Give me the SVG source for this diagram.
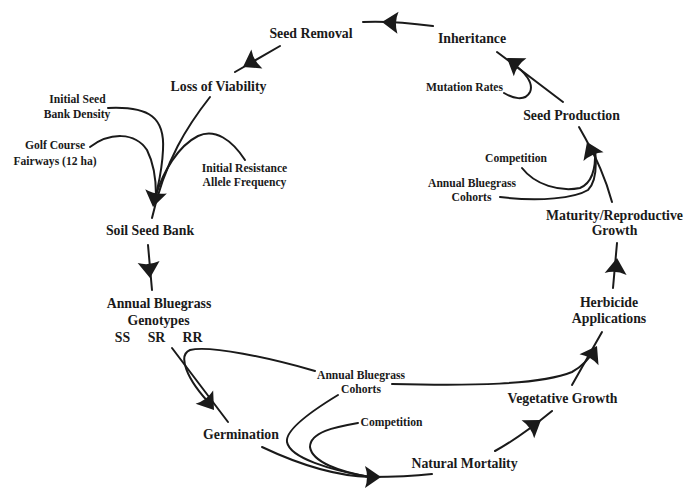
<svg xmlns="http://www.w3.org/2000/svg" xmlns:xlink="http://www.w3.org/1999/xlink" width="696" height="489" viewBox="0 0 696 489">
<style>
text{font-family:"Liberation Serif","Times New Roman",serif;font-weight:bold;fill:#1a1a1a;text-anchor:middle}
.m{font-size:13.8px}
.s{font-size:11.6px}
.c{fill:none;stroke:#1a1a1a;stroke-width:2;stroke-linecap:round}
.a{fill:#1a1a1a}
</style>
<defs>
<path id="ah" d="M0,0 L-16,-11 Q-12,0 -16,11 Z"/>
</defs>
<rect width="696" height="489" fill="#fff"/>
<g id="connectors">
<path class="c" d="M433,26 C410,23 385,21 363,22"/>
<path class="c" d="M280,46 L235,72"/>
<path class="c" d="M210,97 C188,125 165,160 152,218"/>
<path class="c" d="M108,108 C150,106 165,118 163,150 C162,172 158,185 156,195"/>
<path class="c" d="M90,147 C110,132 135,132 147,150 C153,162 156,178 156,195"/>
<path class="c" d="M245,160 C232,140 215,128 198,136 C178,146 163,172 156,195"/>
<path class="c" d="M148,245 L152,290"/>
<path class="c" d="M172,348 L228,422"/>
<path class="c" d="M315,371 C270,358 210,345 190,350 C178,355 185,378 212,406"/>
<path class="c" d="M262,447 C300,465 335,476 370,477 C395,477 415,476 432,474"/>
<path class="c" d="M338,395 C310,412 285,430 287,442 C290,458 330,470 370,477"/>
<path class="c" d="M358,423 C335,427 310,432 310,447 C312,462 340,472 370,477"/>
<path class="c" d="M495,451 C515,440 535,425 552,411"/>
<path class="c" d="M572,385 L602,332"/>
<path class="c" d="M392,384 C470,386 540,385 572,372 C583,366 590,358 596,348"/>
<path class="c" d="M613,288 L617,243"/>
<path class="c" d="M612,202 C606,180 598,160 579,127"/>
<path class="c" d="M522,168 C535,185 560,192 580,188 C592,183 596,170 595,150"/>
<path class="c" d="M500,197 C540,202 575,198 588,190 C596,182 597,168 595,150"/>
<path class="c" d="M563,102 L497,52"/>
<path class="c" d="M504,93 C512,98 525,102 530,92 C534,83 525,72 512,63"/>
<use class="a" xlink:href="#ah" transform="translate(382,22) rotate(183)"/>
<use class="a" xlink:href="#ah" transform="translate(243,67) rotate(150)"/>
<use class="a" xlink:href="#ah" transform="translate(153,207) rotate(101)"/>
<use class="a" xlink:href="#ah" transform="translate(150,278) rotate(85)"/>
<use class="a" xlink:href="#ah" transform="translate(214,410) rotate(53)"/>
<use class="a" xlink:href="#ah" transform="translate(381,477) rotate(0)"/>
<use class="a" xlink:href="#ah" transform="translate(541,420) rotate(-35)"/>
<use class="a" xlink:href="#ah" transform="translate(597,346) rotate(-60)"/>
<use class="a" xlink:href="#ah" transform="translate(617,258) rotate(-85)"/>
<use class="a" xlink:href="#ah" transform="translate(587,142) rotate(-114)"/>
<use class="a" xlink:href="#ah" transform="translate(507,58) rotate(-145)"/>
</g>
<g id="seed-removal"><text class="m" x="311" y="38">Seed Removal</text></g>
<g id="loss-of-viability"><text class="m" x="218.5" y="91">Loss of Viability</text></g>
<g id="inheritance"><text class="m" x="472" y="43">Inheritance</text></g>
<g id="mutation-rates"><text class="s" x="464.5" y="91">Mutation Rates</text></g>
<g id="seed-production"><text class="m" x="571.5" y="120">Seed Production</text></g>
<g id="competition-upper"><text class="s" x="516" y="162">Competition</text></g>
<g id="cohorts-upper"><text class="s" x="472" y="187">Annual Bluegrass</text><text class="s" x="471.5" y="201">Cohorts</text></g>
<g id="maturity"><text class="m" x="614.5" y="220">Maturity/Reproductive</text><text class="m" x="614.5" y="235">Growth</text></g>
<g id="herbicide"><text class="m" x="609" y="307">Herbicide</text><text class="m" x="609" y="323">Applications</text></g>
<g id="vegetative-growth"><text class="m" x="562.5" y="403">Vegetative Growth</text></g>
<g id="natural-mortality"><text class="m" x="464.5" y="468">Natural Mortality</text></g>
<g id="competition-lower"><text class="s" x="391.5" y="426">Competition</text></g>
<g id="cohorts-lower"><text class="s" x="361" y="379">Annual Bluegrass</text><text class="s" x="361" y="393">Cohorts</text></g>
<g id="germination"><text class="m" x="241" y="439">Germination</text></g>
<g id="genotypes"><text class="m" x="159" y="308">Annual Bluegrass</text><text class="m" x="158.5" y="325">Genotypes</text><text class="m" x="122.5" y="342">SS</text><text class="m" x="156.5" y="342">SR</text><text class="m" x="192.5" y="342">RR</text></g>
<g id="soil-seed-bank"><text class="m" x="150" y="235">Soil Seed Bank</text></g>
<g id="initial-seed-bank"><text class="s" x="77.5" y="103">Initial Seed</text><text class="s" x="77" y="118">Bank Density</text></g>
<g id="golf-course"><text class="s" x="55" y="149">Golf Course</text><text class="s" x="55" y="165">Fairways (12 ha)</text></g>
<g id="initial-resistance"><text class="s" x="244.5" y="172">Initial Resistance</text><text class="s" x="244.5" y="186">Allele Frequency</text></g>
</svg>
